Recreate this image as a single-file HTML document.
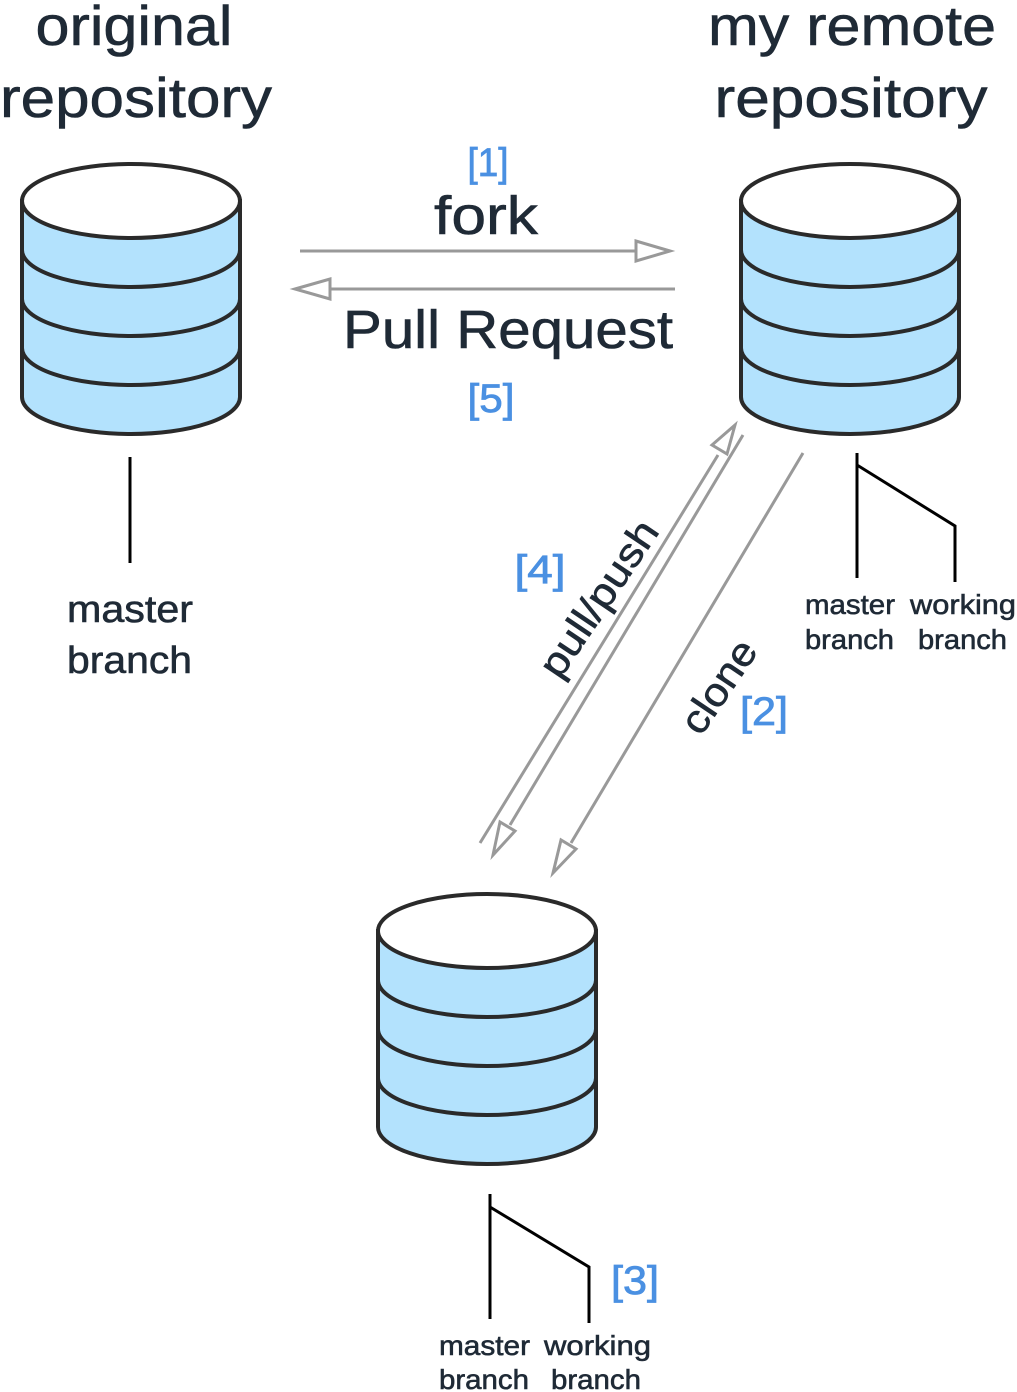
<!DOCTYPE html>
<html><head><meta charset="utf-8"><style>
html,body{margin:0;padding:0;background:#fff;}
svg{display:block;}
text{font-family:"Liberation Sans",sans-serif;}
.t{fill:#1f2a36;stroke:#1f2a36;stroke-width:0.6;}
.b{fill:#4a90e2;stroke:#4a90e2;stroke-width:0.8;}
</style></head><body>
<svg width="1017" height="1392" viewBox="0 0 1017 1392" xmlns="http://www.w3.org/2000/svg">
<defs>
<g id="cyl">
  <path d="M0,37 L0,233 A109,37 0 0 0 218,233 L218,37 Z" fill="#b3e2fd" stroke="#2a2a2a" stroke-width="4"/>
  <path d="M0,86 A109,37 0 0 0 218,86" fill="none" stroke="#2a2a2a" stroke-width="4"/>
  <path d="M0,135 A109,37 0 0 0 218,135" fill="none" stroke="#2a2a2a" stroke-width="4"/>
  <path d="M0,184 A109,37 0 0 0 218,184" fill="none" stroke="#2a2a2a" stroke-width="4"/>
  <ellipse cx="109" cy="37" rx="109" ry="37" fill="#fff" stroke="#2a2a2a" stroke-width="4"/>
</g>
</defs>

<text class="t" x="134" y="45" font-size="56" text-anchor="middle" textLength="197" lengthAdjust="spacingAndGlyphs">original</text>
<text class="t" x="136" y="117" font-size="56" text-anchor="middle" textLength="272" lengthAdjust="spacingAndGlyphs">repository</text>
<text class="t" x="852" y="45" font-size="56" text-anchor="middle" textLength="288" lengthAdjust="spacingAndGlyphs">my remote</text>
<text class="t" x="851" y="117" font-size="56" text-anchor="middle" textLength="273" lengthAdjust="spacingAndGlyphs">repository</text>

<use href="#cyl" x="22" y="164"/>
<use href="#cyl" x="741" y="164"/>
<use href="#cyl" x="378" y="894"/>

<g stroke="#999" stroke-width="3" fill="#fff">
  <line x1="300" y1="251" x2="636" y2="251"/>
  <path d="M670,251 L636,241 L636,261 Z"/>
  <line x1="675" y1="289" x2="330" y2="289"/>
  <path d="M295,289 L330,279 L330,299 Z"/>
  <line x1="480" y1="843" x2="718" y2="455"/>
  <path d="M735,425 L712,445 L727,454 Z"/>
  <line x1="743" y1="435" x2="510" y2="825"/>
  <path d="M493,855 L500,822 L515,831 Z"/>
  <line x1="803" y1="453" x2="571" y2="843"/>
  <path d="M553,873 L561,840 L576,849 Z"/>
</g>

<text class="b" x="488" y="176" font-size="40" text-anchor="middle" textLength="41" lengthAdjust="spacingAndGlyphs">[1]</text>
<text class="t" x="486" y="234" font-size="54" text-anchor="middle" textLength="104" lengthAdjust="spacingAndGlyphs">fork</text>
<text class="t" x="508" y="348" font-size="54" text-anchor="middle" textLength="330" lengthAdjust="spacingAndGlyphs">Pull Request</text>
<text class="b" x="491" y="412" font-size="40" text-anchor="middle" textLength="47" lengthAdjust="spacingAndGlyphs">[5]</text>

<text class="b" x="540" y="583" font-size="40" text-anchor="middle" textLength="51" lengthAdjust="spacingAndGlyphs">[4]</text>
<text class="t" x="0" y="0" font-size="40" text-anchor="middle" textLength="180" lengthAdjust="spacingAndGlyphs" transform="translate(610,606) rotate(-56)">pull/push</text>
<text class="t" x="0" y="0" font-size="40" text-anchor="middle" textLength="104" lengthAdjust="spacingAndGlyphs" transform="translate(730,694) rotate(-56)">clone</text>
<text class="b" x="764" y="725" font-size="40" text-anchor="middle" textLength="48" lengthAdjust="spacingAndGlyphs">[2]</text>

<g stroke="#000" stroke-width="3" fill="none">
  <line x1="130" y1="457" x2="130" y2="563"/>
  <line x1="857" y1="453" x2="857" y2="578"/>
  <polyline points="857,465 955,526 955,582"/>
  <line x1="490" y1="1194" x2="490" y2="1319"/>
  <polyline points="490,1207 589,1267 589,1323"/>
</g>

<text class="t" x="67" y="622" font-size="38" textLength="126" lengthAdjust="spacingAndGlyphs">master</text>
<text class="t" x="67" y="673" font-size="38" textLength="125" lengthAdjust="spacingAndGlyphs">branch</text>

<text class="t" x="805" y="614" font-size="28" textLength="90" lengthAdjust="spacingAndGlyphs">master</text>
<text class="t" x="910" y="614" font-size="28" textLength="106" lengthAdjust="spacingAndGlyphs">working</text>
<text class="t" x="805" y="649" font-size="28" textLength="89" lengthAdjust="spacingAndGlyphs">branch</text>
<text class="t" x="918" y="649" font-size="28" textLength="89" lengthAdjust="spacingAndGlyphs">branch</text>

<text class="b" x="635" y="1294" font-size="40" text-anchor="middle" textLength="48" lengthAdjust="spacingAndGlyphs">[3]</text>
<text class="t" x="439" y="1355" font-size="28" textLength="91" lengthAdjust="spacingAndGlyphs">master</text>
<text class="t" x="544" y="1355" font-size="28" textLength="107" lengthAdjust="spacingAndGlyphs">working</text>
<text class="t" x="439" y="1389" font-size="28" textLength="90" lengthAdjust="spacingAndGlyphs">branch</text>
<text class="t" x="551" y="1389" font-size="28" textLength="90" lengthAdjust="spacingAndGlyphs">branch</text>
</svg>
</body></html>
